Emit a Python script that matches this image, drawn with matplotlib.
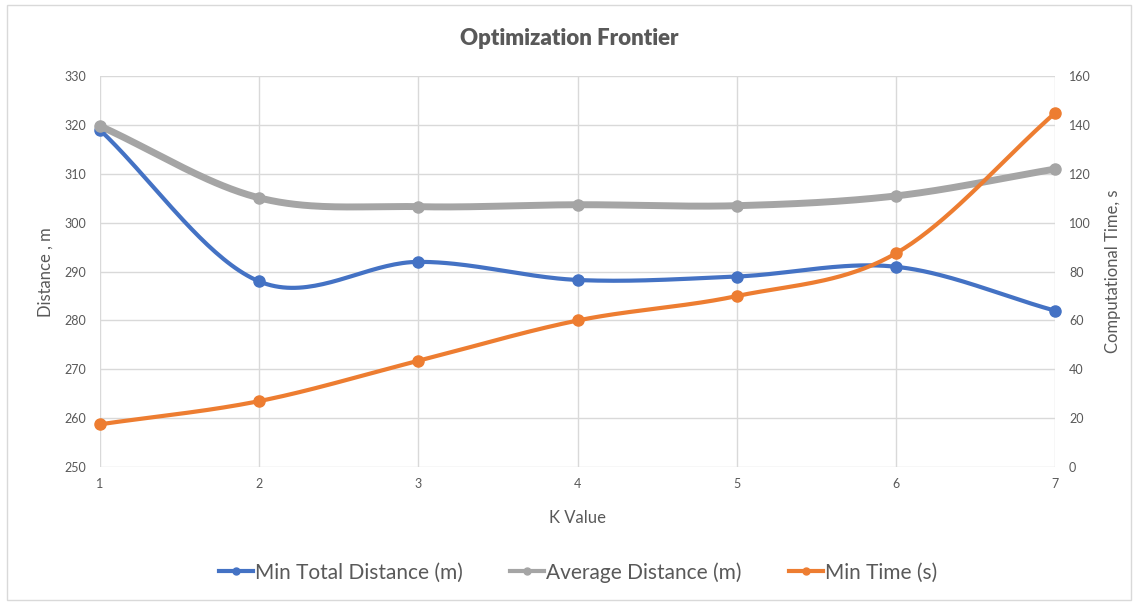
import numpy as np
import matplotlib
matplotlib.use("Agg")
import matplotlib.pyplot as plt
from matplotlib.lines import Line2D
from matplotlib.patches import Rectangle

k_values = [1, 2, 3, 4, 5, 6, 7]
min_total_distance = [319, 288, 292, 288.3, 289, 291, 282]
average_distance = [319.8, 305.1, 303.3, 303.7, 303.5, 305.5, 311]
min_time = [17.5, 27, 43.5, 60, 70, 87.5, 145]

series_names = ["Min Total Distance (m)", "Average Distance (m)", "Min Time (s)"]
colors = ["#4472C4", "#A5A5A5", "#ED7D31"]
left_ticks = [250, 260, 270, 280, 290, 300, 310, 320, 330]
right_ticks = [0, 20, 40, 60, 80, 100, 120, 140, 160]

plt.rcParams['font.family'] = ['Lato', 'DejaVu Sans']
TXT = "#595959"


def smooth(x, y, n=40):
    # Catmull-Rom style smoothing used for drawing (like Excel's smoothed line)
    x = np.asarray(x, float)
    y = np.asarray(y, float)
    px = np.concatenate([[2 * x[0] - x[1]], x, [2 * x[-1] - x[-2]]])
    py = np.concatenate([[2 * y[0] - y[1]], y, [2 * y[-1] - y[-2]]])
    xs, ys = [], []
    for i in range(1, len(px) - 2):
        t = np.linspace(0, 1, n, endpoint=False)
        p0, p1, p2, p3 = py[i - 1], py[i], py[i + 1], py[i + 2]
        q0, q1, q2, q3 = px[i - 1], px[i], px[i + 1], px[i + 2]
        t2, t3 = t * t, t * t * t
        ys.append(0.5 * (2 * p1 + (-p0 + p2) * t + (2 * p0 - 5 * p1 + 4 * p2 - p3) * t2 + (-p0 + 3 * p1 - 3 * p2 + p3) * t3))
        xs.append(0.5 * (2 * q1 + (-q0 + q2) * t + (2 * q0 - 5 * q1 + 4 * q2 - q3) * t2 + (-q0 + 3 * q1 - 3 * q2 + q3) * t3))
    xs.append([x[-1]])
    ys.append([y[-1]])
    return np.concatenate(xs), np.concatenate(ys)


fig = plt.figure(figsize=(11.38, 6.05), dpi=100)
fig.patches.append(Rectangle((0.006, 0.008), 0.988, 0.984, transform=fig.transFigure,
                             fill=False, edgecolor="#D9D9D9", linewidth=1.0))
ax = fig.add_axes([0.0879, 0.228, 0.8393, 0.646])
ax2 = ax.twinx()

ax.set_xlim(1, 7)
ax.set_ylim(250, 330)
ax2.set_ylim(0, 160)
ax.set_yticks(left_ticks)
ax2.set_yticks(right_ticks)
ax.set_xticks(k_values)

ax.grid(True, color="#D9D9D9", linewidth=1.0)
ax.set_axisbelow(True)
for a in (ax, ax2):
    for s in a.spines.values():
        s.set_visible(False)
    a.tick_params(length=0, labelsize=9, labelcolor=TXT)
ax.tick_params(axis='x', pad=8)
ax.tick_params(axis='y', pad=10)
ax2.tick_params(axis='y', pad=10)

lw = [3, 5, 3]
for vals, c, w, a in [(min_total_distance, colors[0], lw[0], ax),
                      (average_distance, colors[1], lw[1], ax),
                      (min_time, colors[2], lw[2], ax2)]:
    sx, sy = smooth(k_values, vals)
    a.plot(sx, sy, color=c, linewidth=w, solid_capstyle='round', clip_on=False)
    a.plot(k_values, vals, 'o', color=c, markersize=8, clip_on=False)

fig.text(0.5, 0.937, "Optimization Frontier", ha='center', va='center',
         fontsize=16, fontweight='heavy', color=TXT)
ax.set_xlabel("K Value", fontsize=12, color=TXT, labelpad=14)
ax.set_ylabel("Distance , m", fontsize=12, color=TXT, labelpad=8)
ax2.set_ylabel("Computational Time, s", fontsize=12, color=TXT, labelpad=10)

handles = [Line2D([0], [0], color=c, linewidth=3, marker='o', markersize=5)
           for c in colors]
fig.legend(handles, series_names, loc='center', bbox_to_anchor=(0.508, 0.054), ncol=3,
           frameon=False, fontsize=15, labelcolor=TXT, handlelength=1.6,
           handletextpad=0.1, columnspacing=2.3)

fig.savefig("out.png", dpi=100)
